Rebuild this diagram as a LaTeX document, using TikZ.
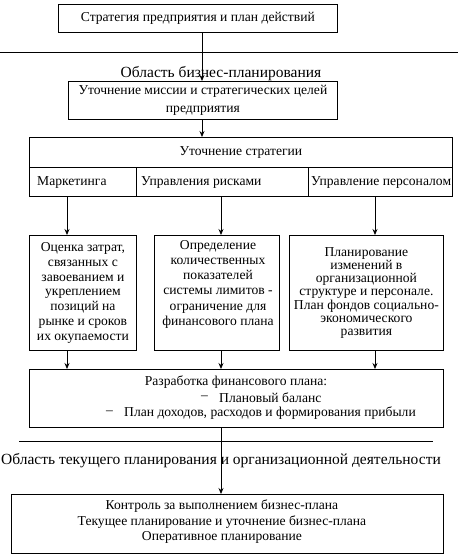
\documentclass[tikz,border=0pt]{standalone}
\usepackage{fontspec}
\setmainfont{Liberation Serif}
\usetikzlibrary{arrows.meta}
\begin{document}
\begin{tikzpicture}[x=1pt,y=-1pt,
  box/.style={draw,line width=0.8pt,rectangle,inner sep=0pt,anchor=north west,align=center,font=\fontsize{13.6}{15}\selectfont},
  txt/.style={inner sep=0pt,align=center,font=\fontsize{13.6}{15.2}\selectfont},
  area/.style={inner sep=0pt,font=\fontsize{15.5}{18}\selectfont},
  arr/.style={line width=0.8pt,-{Stealth[length=6pt,width=5pt]}},
  sep/.style={line width=0.8pt}]
\useasboundingbox (0,0) rectangle (458,555);
% column coordinates
\coordinate (c1) at (202,0);
\coordinate (ca) at (67,0);
\coordinate (cb) at (221,0);
\coordinate (cc) at (375,0);
% top box
\node[box,minimum width=279pt,minimum height=28pt] (b1) at (58,4) {Стратегия предприятия и план действий};
\draw[sep] (0,52) -- (458,52);
\node[area] (l1) at (221,74) {Область бизнес-планирования};
\node[box,minimum width=269pt,minimum height=38pt,font=\fontsize{13.6}{18}\selectfont] (b2) at (68,81) {Уточнение миссии и стратегических целей\\предприятия};
% strategy
\node[box,minimum width=423pt,minimum height=30pt] (st) at (29,137) {Уточнение стратегии};
\node[box,minimum width=107pt,minimum height=29pt] (cm) at (29,167) {};
\node[box,minimum width=172pt,minimum height=29pt] (cr) at (136,167) {};
\node[box,minimum width=144pt,minimum height=29pt] (cp) at (308,167) {};
\node[txt,anchor=west] (tm) at (37,182) {Маркетинга};
\node[txt,anchor=west] (tr) at (141,182) {Управления рисками};
\node[txt,anchor=west] (tp) at (311,182) {Управление персоналом};
% three boxes
\node[box,minimum width=107pt,minimum height=115pt,font=\fontsize{13.6}{14.8}\selectfont] (ba) at (29,235) {Оценка затрат,\\связанных с\\завоеванием и\\укреплением\\позиций на\\рынке и сроков\\их окупаемости};
\node[box,minimum width=125pt,minimum height=115pt] (bb) at (154,235) {};
\node[txt,anchor=north] (tb) at (218,240) {Определение\\количественных\\показателей\\системы лимитов -\\ограничение для\\финансового плана};
\node[box,minimum width=154pt,minimum height=115pt,font=\fontsize{13.6}{13.1}\selectfont] (bc) at (289,235) {Планирование\\изменений в\\организационной\\структуре и персонале.\\План фондов социально-\\экономического\\развития};
% financial plan
\node[box,minimum width=414pt,minimum height=58pt] (bf) at (29,369) {};
\node[txt] (f1) at (236,382) {Разработка финансового плана:};
\node[txt,anchor=west] (f2d) at (201,398) {–};
\node[txt,anchor=west] (f2) at (219,398) {Плановый баланс};
\node[txt,anchor=west] (f3d) at (106,413) {–};
\node[txt,anchor=west] (f3) at (124,413) {План доходов, расходов и формирования прибыли};
\draw[sep] (19,441) -- (433,441);
\node[area] (l2) at (221,461) {Область текущего планирования и организационной деятельности};
% bottom box
\node[box,minimum width=432pt,minimum height=59pt] (bl) at (11,494) {};
\node[txt,font=\fontsize{13.6}{15.5}\selectfont] (tl) at (222,522) {Контроль за выполнением бизнес-плана\\Текущее планирование и уточнение бизнес-плана\\Оперативное планирование};
% arrows
\draw[arr] (b1.south -| c1) -- (b2.north -| c1);
\draw[arr] (b2.south -| c1) -- (st.north -| c1);
\draw[arr] (cm.south -| ca) -- (ba.north -| ca);
\draw[arr] (cr.south -| cb) -- (bb.north -| cb);
\draw[arr] (cp.south -| cc) -- (bc.north -| cc);
\draw[arr] (ba.south -| ca) -- (bf.north -| ca);
\draw[arr] (bb.south -| cb) -- (bf.north -| cb);
\draw[arr] (bc.south -| cc) -- (bf.north -| cc);
\draw[arr] (bf.south -| cb) -- (bl.north -| cb);
\end{tikzpicture}
\end{document}
